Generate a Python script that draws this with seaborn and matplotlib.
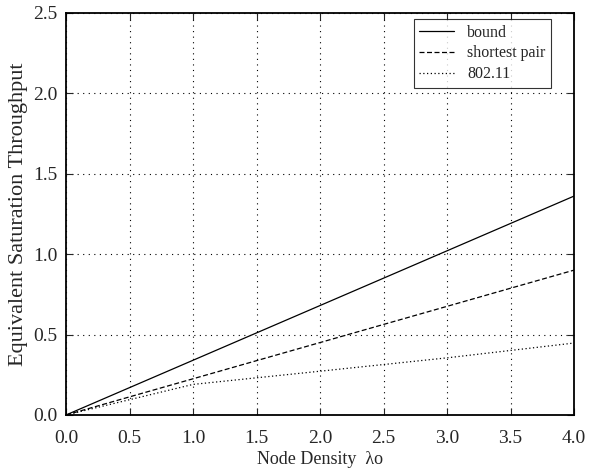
import pandas as pd
import matplotlib.pyplot as plt
import seaborn as sns

density = [0.0, 1.0, 2.0, 3.0, 4.0]
bound = [0.0, 0.34, 0.68, 1.02, 1.36]
shortest_pair = [0.0, 0.225, 0.45, 0.675, 0.90]
dot11 = [0.0, 0.19, 0.272, 0.355, 0.447]

sns.set_style("ticks")
plt.rcParams['font.family'] = ['Liberation Serif', 'DejaVu Serif']

df = pd.DataFrame({
    'x': density * 3,
    'y': bound + shortest_pair + dot11,
    'series': ['bound'] * 5 + ['shortest pair'] * 5 + ['802.11'] * 5,
})

fig = plt.figure(figsize=(5.97, 4.74), dpi=100)
ax = fig.add_axes([0.1106, 0.1245, 0.851, 0.849])
sns.lineplot(data=df, x='x', y='y', hue='series', style='series',
             palette=['black'] * 3, dashes=[(None, None), (4, 2), (1, 2)],
             linewidth=0.9, ax=ax)

ax.set_xlim(0, 4)
ax.set_ylim(0, 2.5)
ax.set_xticks([i * 0.5 for i in range(9)])
ax.set_yticks([i * 0.5 for i in range(6)])
ax.xaxis.set_major_formatter(plt.FormatStrFormatter('%.1f'))
ax.yaxis.set_major_formatter(plt.FormatStrFormatter('%.1f'))
ax.grid(True, color='black', linestyle=(0, (1, 4)), linewidth=0.8)
ax.tick_params(direction='in', top=True, right=True, labelsize=14, length=5)
ax.tick_params(axis='x', pad=11)
ax.tick_params(axis='y', pad=6)
for s in ax.spines.values():
    s.set_linewidth(1.3)
    s.set_color('black')

ax.set_xlabel('Node Density  λo', fontsize=13, labelpad=3)
ax.set_ylabel('Equivalent Saturation Throughput', fontsize=16, labelpad=4)

leg = ax.legend(loc='upper right', bbox_to_anchor=(0.955, 0.984), borderaxespad=0,
                fontsize=11.5, frameon=True, fancybox=False, handlelength=2.2,
                borderpad=0.35, labelspacing=0.3, handletextpad=0.8)
leg.get_frame().set_edgecolor('black')
leg.get_frame().set_linewidth(0.8)

plt.savefig('out.png')
